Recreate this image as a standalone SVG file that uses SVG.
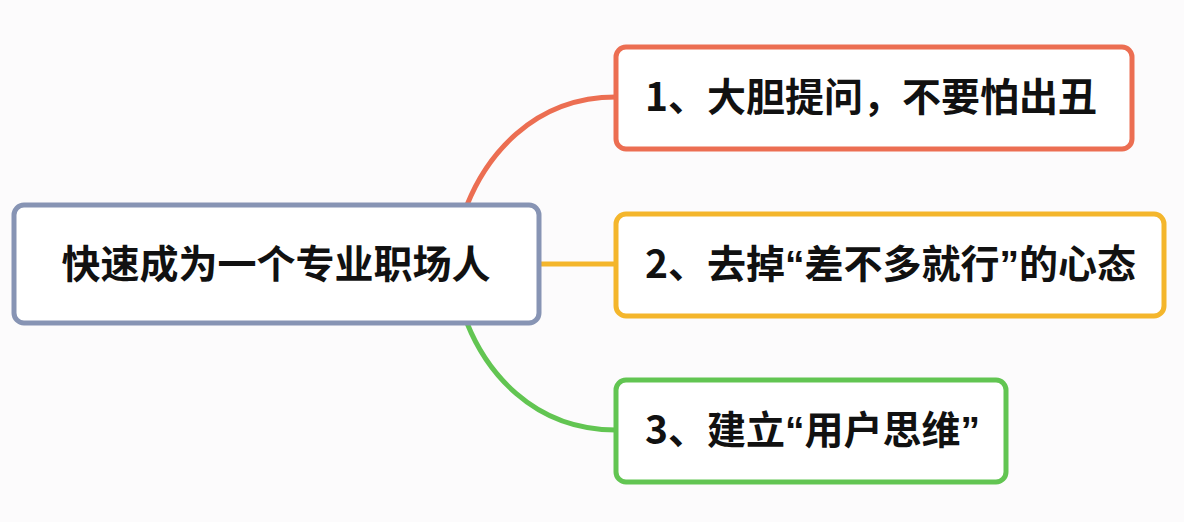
<svg xmlns="http://www.w3.org/2000/svg" width="1184" height="522" viewBox="0 0 1184 522">
<style>
.box{fill:#ffffff;stroke-width:5}
.lbl{font-family:"Noto Sans CJK SC","Noto Sans",sans-serif;font-weight:bold;font-size:39px;fill:#111111}
.q{font-family:"Liberation Sans",sans-serif}
.conn{fill:none;stroke-width:5;stroke-linecap:round}
</style>
<rect width="1184" height="522" fill="#fcfbfc"/>
<g id="connectors">
<path class="conn" stroke="#ec6e52" d="M467,205 C485,160 530,97 616,97"/>
<path class="conn" stroke="#f4b62c" d="M540,264 L616,264"/>
<path class="conn" stroke="#62c552" d="M467,323 C485,368 530,430 616,430"/>
</g>
<g id="root">
<rect class="box" x="14" y="205" width="525" height="118" rx="10" stroke="#8794b4"/>
<text class="lbl" x="276" y="278" text-anchor="middle">快速成为一个专业职场人</text>
</g>
<g id="node1">
<rect class="box" x="616" y="47" width="516" height="102" rx="10" stroke="#ec6e52"/>
<text class="lbl" x="645" y="111">1、大胆提问，不要怕出丑</text>
</g>
<g id="node2">
<rect class="box" x="616" y="214" width="548" height="102" rx="10" stroke="#f4b62c"/>
<text class="lbl" x="645" y="278">2、去掉<tspan class="q">“</tspan>差不多就行<tspan class="q">”</tspan>的心态</text>
</g>
<g id="node3">
<rect class="box" x="616" y="380" width="390" height="102" rx="10" stroke="#62c552"/>
<text class="lbl" x="645" y="444">3、建立<tspan class="q">“</tspan>用户思维<tspan class="q">”</tspan></text>
</g>
</svg>
